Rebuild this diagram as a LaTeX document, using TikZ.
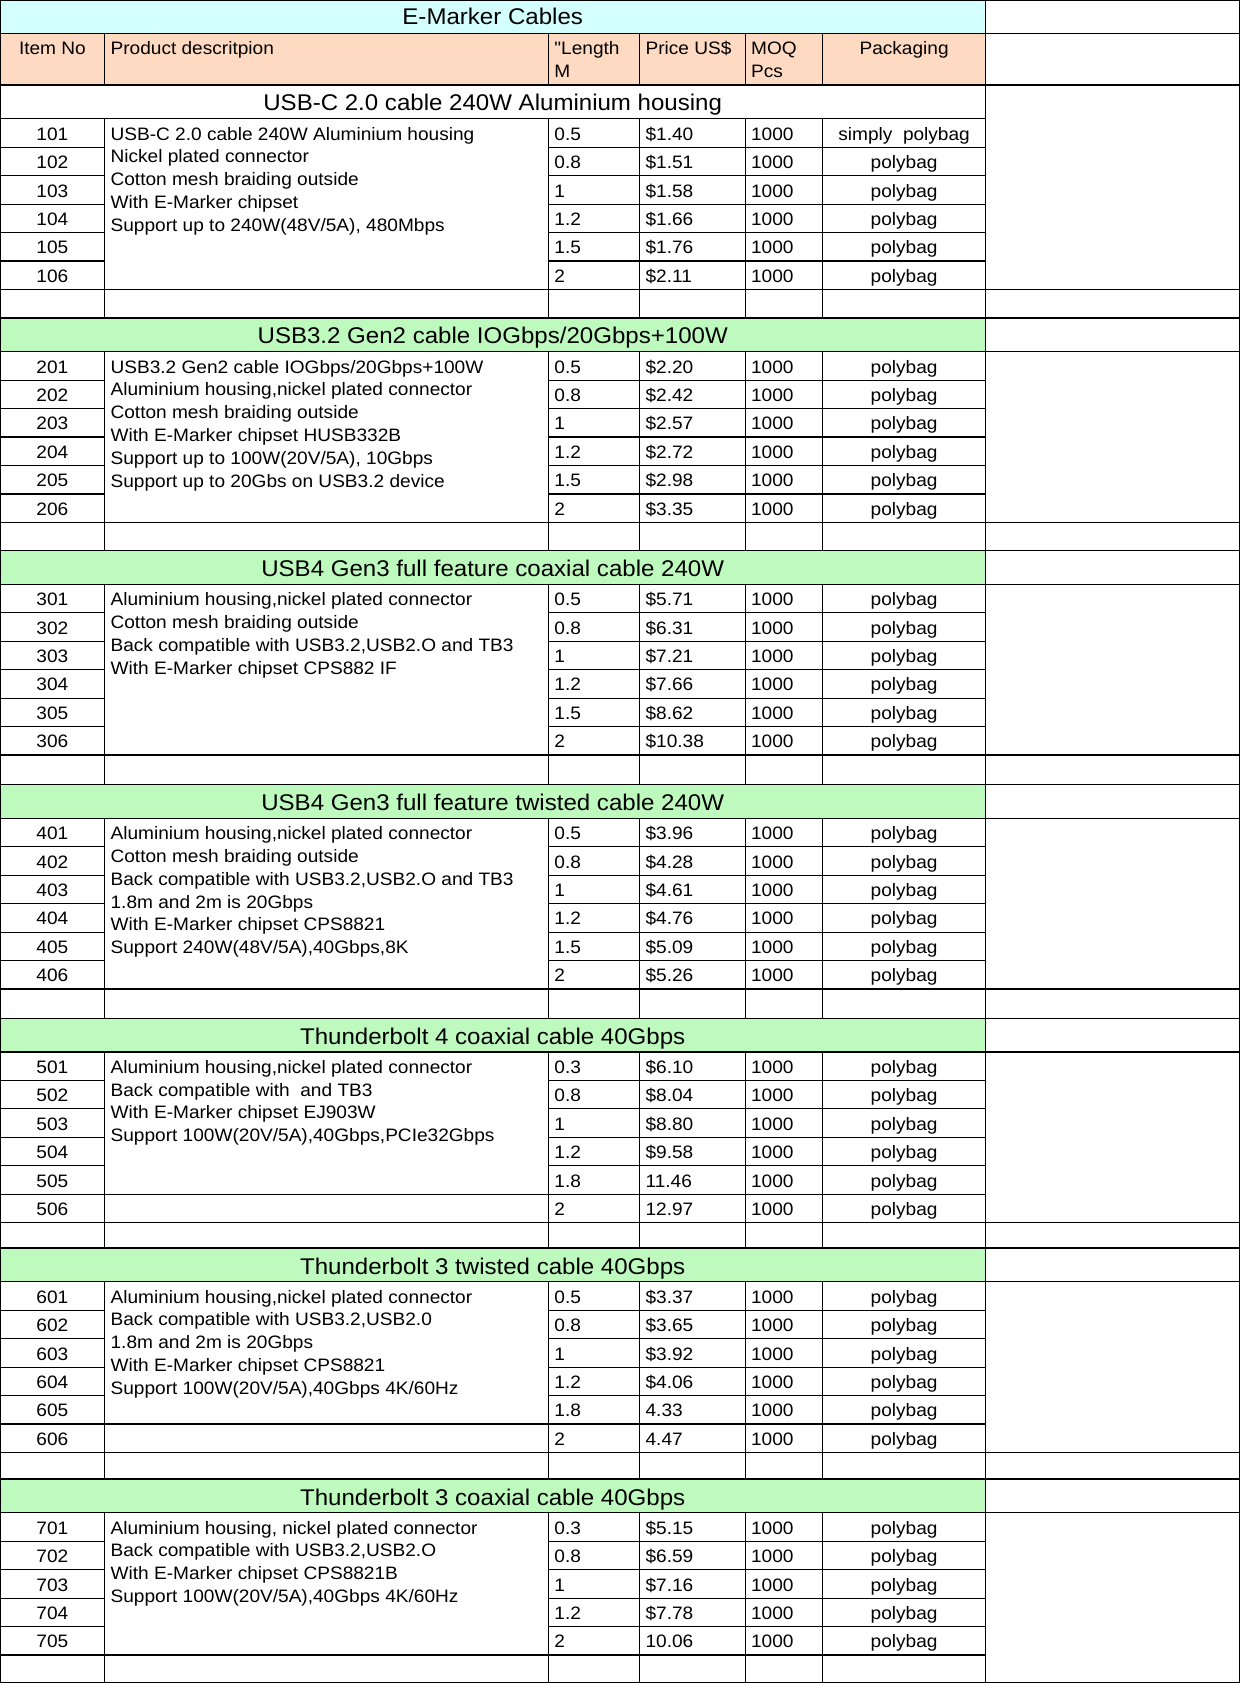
\documentclass[tikz,border=0pt]{standalone}
\usepackage{fontspec}
\setmainfont{Liberation Sans}[FakeStretch=1.06,Ligatures=TeXOff]
\definecolor{titlecyan}{RGB}{212,255,255}
\definecolor{headpeach}{RGB}{255,218,194}
\definecolor{sectgreen}{RGB}{190,250,190}

\begin{document}
\begin{tikzpicture}[x=1pt,y=-1pt,line width=1.2pt]
  \tikzset{cell/.style={anchor=base,inner sep=0pt,font=\fontsize{18}{22}\selectfont},
    lcell/.style={cell,anchor=base west},
    sect/.style={cell,font=\fontsize{22.7}{27}\selectfont}};
  \def\tops{{85,317.9,550.5,784.5,1018.1,1248,1479}}
  \useasboundingbox (0,0) rectangle (1240,1683);
  % fills
  \fill[titlecyan] (0,0) rectangle (985.4,33.3);
  \fill[headpeach] (0,33.3) rectangle (985.4,85);
  \foreach \tp in {317.9,550.5,784.5,1018.1,1248,1479}
    \fill[sectgreen] (0,\tp) rectangle (985.4,\tp+33.8);
  % frame and heading rows
  \draw (0.6,0.6) rectangle (1239.4,1682.4);
  \draw (0,33.3) -- (1240,33.3) (0,85) -- (1240,85) (985.4,0) -- (985.4,1683);
  \foreach \cx in {104.8,548.8,639.8,745.3,822.8}
    \draw (\cx,33.3) -- (\cx,85);
  % section grids: top/rows/split/title line/end line/next top
  \foreach \tp/\nr/\sp/\ws/\es/\nt in {85/6/0/0/1/317.9,317.9/6/0/1/1/550.5,550.5/6/0/1/1/784.5,
      784.5/6/0/1/1/1018.1,1018.1/6/1/1/1/1248,1248/6/1/1/1/1479,1479/5/0/1/0/1683}{
    \pgfmathsetmacro\dy{\tp+33.8}
    \pgfmathsetmacro\by{\dy+\nr*28.45}
    \pgfmathtruncatemacro\mr{\nr-1}
    \draw (0,\tp) -- (1240,\tp);
    \draw (0,\dy) -- (985.4+\ws*254.6,\dy);
    \draw (0,\by) -- (985.4+\es*254.6,\by);
    \foreach \rr in {1,...,\mr}
      \draw (0,\dy+\rr*28.45) -- (104.8,\dy+\rr*28.45) (548.8,\dy+\rr*28.45) -- (985.4,\dy+\rr*28.45);
    \ifnum\sp=1 \draw (104.8,\by-28.45) -- (548.8,\by-28.45); \fi
    \foreach \cx in {104.8,548.8,639.8,745.3,822.8}
      \draw (\cx,\dy) -- (\cx,\nt);
  }
  % heading
  \node[sect] (title) at (492.7,25) {E-Marker Cables};
  \node[cell] (hItem) at (52.4,54.3) {Item No};
  \node[lcell] (hDesc) at (110,54.3) {Product descritpion};
  \node[lcell] (hLen) at (553.8,54.3) {"Length};
  \node[lcell] (hLenM) at (553.8,77.3) {M};
  \node[lcell] (hPrice) at (645,54.3) {Price US\$};
  \node[lcell] (hMoq) at (750.5,54.3) {MOQ};
  \node[lcell] (hPcs) at (750.5,77.3) {Pcs};
  \node[cell] (hPack) at (904.1,54.3) {Packaging};
  % section titles
  \node[sect] (sec1) at (492.7,111) {USB-C 2.0 cable 240W Aluminium housing};
  \node[sect] (sec2) at (492.7,343.9) {USB3.2 Gen2 cable IOGbps/20Gbps+100W};
  \node[sect] (sec3) at (492.7,576.5) {USB4 Gen3 full feature coaxial cable 240W};
  \node[sect] (sec4) at (492.7,810.5) {USB4 Gen3 full feature twisted cable 240W};
  \node[sect] (sec5) at (492.7,1044.1) {Thunderbolt 4 coaxial cable 40Gbps};
  \node[sect] (sec6) at (492.7,1274) {Thunderbolt 3 twisted cable 40Gbps};
  \node[sect] (sec7) at (492.7,1505) {Thunderbolt 3 coaxial cable 40Gbps};
  % price rows
  \foreach \i/\len/\pr in {101/0.5/\$1.40,102/0.8/\$1.51,103/1/\$1.58,104/1.2/\$1.66,105/1.5/\$1.76,106/2/\$2.11,
      201/0.5/\$2.20,202/0.8/\$2.42,203/1/\$2.57,204/1.2/\$2.72,205/1.5/\$2.98,206/2/\$3.35,
      301/0.5/\$5.71,302/0.8/\$6.31,303/1/\$7.21,304/1.2/\$7.66,305/1.5/\$8.62,306/2/\$10.38,
      401/0.5/\$3.96,402/0.8/\$4.28,403/1/\$4.61,404/1.2/\$4.76,405/1.5/\$5.09,406/2/\$5.26,
      501/0.3/\$6.10,502/0.8/\$8.04,503/1/\$8.80,504/1.2/\$9.58,505/1.8/11.46,506/2/12.97,
      601/0.5/\$3.37,602/0.8/\$3.65,603/1/\$3.92,604/1.2/\$4.06,605/1.8/4.33,606/2/4.47,
      701/0.3/\$5.15,702/0.8/\$6.59,703/1/\$7.16,704/1.2/\$7.78,705/2/10.06}{
    \pgfmathtruncatemacro\sk{int(\i/100)-1}
    \pgfmathsetmacro\ry{\tops[\sk]+55.1+(mod(\i,100)-1)*28.45}
    \node[cell] (item\i) at (52.4,\ry) {\i};
    \node[lcell] (len\i) at (553.8,\ry) {\len};
    \node[lcell] (price\i) at (645,\ry) {\pr};
    \node[lcell] (moq\i) at (750.5,\ry) {1000};
    \node[cell] (pack\i) at (904.1,\ry) {\ifnum\i=101 simply\ \ polybag\else polybag\fi};
  }
  % descriptions
  \foreach \dline [count=\j from 0] in {{USB-C 2.0 cable 240W Aluminium housing},{Nickel plated connector},
      {Cotton mesh braiding outside},{With E-Marker chipset},{Support up to 240W(48V/5A), 480Mbps}}
    \node[lcell] (desc1-\j) at (110,140.1+\j*22.8) {\dline};
  \foreach \dline [count=\j from 0] in {{USB3.2 Gen2 cable IOGbps/20Gbps+100W},{Aluminium housing,nickel plated connector},
      {Cotton mesh braiding outside},{With E-Marker chipset HUSB332B},{Support up to 100W(20V/5A), 10Gbps},
      {Support up to 20Gbs on USB3.2 device}}
    \node[lcell] (desc2-\j) at (110,373+\j*22.8) {\dline};
  \foreach \dline [count=\j from 0] in {{Aluminium housing,nickel plated connector},{Cotton mesh braiding outside},
      {Back compatible with USB3.2,USB2.O and TB3},{With E-Marker chipset CPS882 IF}}
    \node[lcell] (desc3-\j) at (110,605.6+\j*22.8) {\dline};
  \foreach \dline [count=\j from 0] in {{Aluminium housing,nickel plated connector},{Cotton mesh braiding outside},
      {Back compatible with USB3.2,USB2.O and TB3},{1.8m and 2m is 20Gbps},{With E-Marker chipset CPS8821},
      {Support 240W(48V/5A),40Gbps,8K}}
    \node[lcell] (desc4-\j) at (110,839.6+\j*22.8) {\dline};
  \foreach \dline [count=\j from 0] in {{Aluminium housing,nickel plated connector},{Back compatible with\ \ and TB3},
      {With E-Marker chipset EJ903W},{Support 100W(20V/5A),40Gbps,PCIe32Gbps}}
    \node[lcell] (desc5-\j) at (110,1073.2+\j*22.8) {\dline};
  \foreach \dline [count=\j from 0] in {{Aluminium housing,nickel plated connector},{Back compatible with USB3.2,USB2.0},
      {1.8m and 2m is 20Gbps},{With E-Marker chipset CPS8821},{Support 100W(20V/5A),40Gbps 4K/60Hz}}
    \node[lcell] (desc6-\j) at (110,1303.1+\j*22.8) {\dline};
  \foreach \dline [count=\j from 0] in {{Aluminium housing, nickel plated connector},{Back compatible with USB3.2,USB2.O},
      {With E-Marker chipset CPS8821B},{Support 100W(20V/5A),40Gbps 4K/60Hz}}
    \node[lcell] (desc7-\j) at (110,1534.1+\j*22.8) {\dline};
\end{tikzpicture}
\end{document}
